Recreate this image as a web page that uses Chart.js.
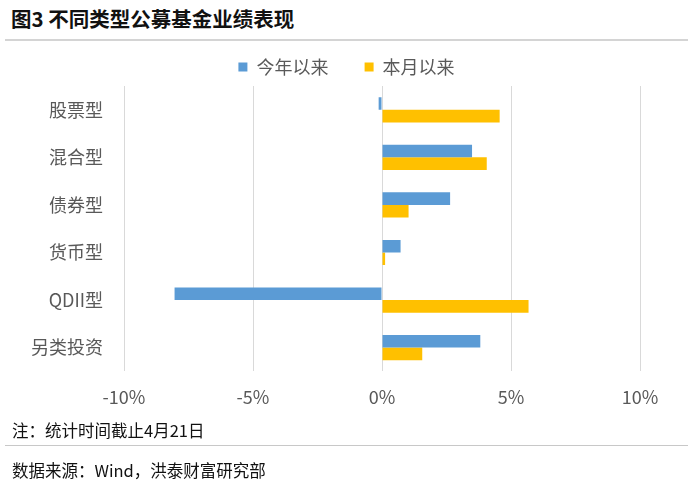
<!DOCTYPE html>
<html>
<head>
<meta charset="utf-8">
<script src="https://cdn.jsdelivr.net/npm/chart.js@4.4.1/dist/chart.umd.min.js"></script>
<style>
  body { margin: 0; background: #fff; font-family: "Noto Sans CJK SC", "Noto Sans", sans-serif; }
  #wrap { position: relative; width: 693px; height: 486px; overflow: hidden; }
  #title { position: absolute; left: 11px; top: 3px; font-size: 20.5px; font-weight: bold; color: #111; }
  .rule { position: absolute; left: 5px; width: 683px; height: 2px; background: #d4d4d4; }
  .note { position: absolute; left: 12px; font-size: 16.5px; color: #111; }
  #chartBox { position: absolute; left: 0; top: 48px; width: 693px; height: 375px; }
</style>
</head>
<body>
<div id="wrap">
  <div id="title">图3 不同类型公募基金业绩表现</div>
  <div class="rule" style="top:39px"></div>
  <div id="chartBox"><canvas id="bar-chart" width="693" height="375"></canvas></div>
  <div class="note" style="top:418px">注：统计时间截止4月21日</div>
  <div class="rule" style="top:445px;height:1px;background:#c8c8c8"></div>
  <div class="note" style="top:458px">数据来源：Wind，洪泰财富研究部</div>
</div>
<script>
//categories and series (percent)
var categories = ["股票型", "混合型", "债券型", "货币型", "QDII型", "另类投资"];
var seriesNames = ["今年以来", "本月以来"];
var ytdValues = [-0.13, 3.49, 2.64, 0.72, -8.04, 3.81];
var mtdValues = [4.56, 4.06, 1.03, 0.12, 5.68, 1.56];
var xTicks = [-10, -5, 0, 5, 10];

var grey = "#595959";
var labelFont = { size: 18, family: "'Noto Sans CJK SC'" };

var barChart = new Chart(document.getElementById("bar-chart"), {
  type: 'bar',
  data: {
    labels: categories,
    datasets: [{
      label: seriesNames[0],
      backgroundColor: "#5B9BD5",
      data: ytdValues
    }, {
      label: seriesNames[1],
      backgroundColor: "#FFC000",
      data: mtdValues
    }]
  },
  options: {
    indexAxis: 'y',
    responsive: false,
    animation: false,
    datasets: {
      bar: { categoryPercentage: 0.53, barPercentage: 1.0 }
    },
    layout: { padding: { top: -2 } },
    plugins: {
      legend: {
        display: true,
        position: 'top',
        labels: {
          boxWidth: 9,
          boxHeight: 9,
          padding: 12,
          color: grey,
          font: labelFont,
          //wider gap between the two legend entries
          generateLabels: function(chart) {
            var items = Chart.defaults.plugins.legend.labels.generateLabels(chart);
            items[0].text = items[0].text + "      ";
            return items;
          }
        }
      },
      tooltip: { enabled: false }
    },
    scales: {
      x: {
        min: xTicks[0],
        max: xTicks[xTicks.length - 1],
        grid: { color: "#d9d9d9", lineWidth: 1, drawTicks: false },
        border: { display: false },
        ticks: {
          stepSize: 5,
          padding: 15,
          color: grey,
          font: labelFont,
          callback: function(v) { return v + "%"; }
        }
      },
      y: {
        grid: { display: false, drawTicks: false },
        border: { display: false },
        afterFit: function(scale) { scale.width = 124; },
        ticks: { padding: 21, color: grey, font: labelFont }
      },
      //empty right-hand axis, only keeps space right of the plot
      y2: {
        type: 'category',
        labels: categories,
        position: 'right',
        grid: { display: false, drawTicks: false },
        border: { display: false },
        ticks: { display: false },
        afterFit: function(scale) { scale.width = 53; }
      }
    }
  }
});
</script>
</body>
</html>
